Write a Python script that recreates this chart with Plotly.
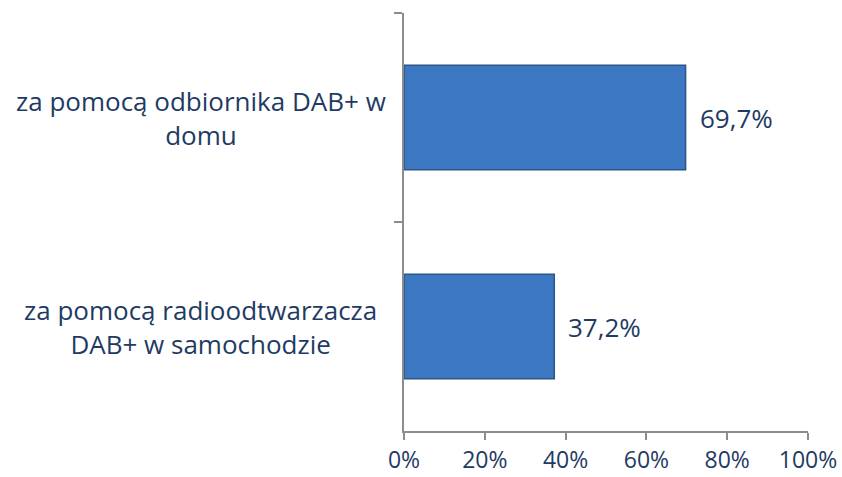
import plotly.graph_objects as go

categories = ["za pomocą odbiornika DAB+ w domu", "za pomocą radioodtwarzacza DAB+ w samochodzie"]
label_lines = ["za pomocą odbiornika DAB+ w<br>domu", "za pomocą radioodtwarzacza<br>DAB+ w samochodzie"]
values = [69.7, 37.2]
x_ticks = [0, 20, 40, 60, 80, 100]
x_tick_labels = ["0%", "20%", "40%", "60%", "80%", "100%"]

FONT = "Open Sans"
TXT = "#1F3B63"
AX = "#8C8C8C"

fig = go.Figure()
fig.add_trace(go.Bar(
    y=categories, x=values, orientation="h", width=0.5,
    marker=dict(color="#3C77C2", line=dict(color="#2C5488", width=1.5)),
    hoverinfo="skip",
))

annotations = []
for cat, lab in zip(categories, label_lines):
    annotations.append(dict(x=-0.5025, xref="paper", y=cat, yref="y", text=lab,
                            showarrow=False, xanchor="center", yanchor="middle", align="center",
                            font=dict(family=FONT, size=26, color=TXT)))
for cat, v in zip(categories, values):
    annotations.append(dict(x=v, xref="x", y=cat, yref="y",
                            text=f"{v:.1f}".replace(".", ",") + "%",
                            showarrow=False, xanchor="left", yanchor="middle", xshift=12,
                            font=dict(family=FONT, size=26, color=TXT)))

fig.update_layout(
    width=842, height=477,
    margin=dict(l=404, r=34, t=13, b=46, autoexpand=False),
    paper_bgcolor="white", plot_bgcolor="white",
    showlegend=False,
    annotations=annotations,
    xaxis=dict(range=[0, 100], tickvals=x_ticks, ticktext=x_tick_labels, automargin=False,
               showgrid=False, zeroline=False, showline=True, linecolor=AX, linewidth=2,
               ticks="outside", ticklen=7, tickcolor=AX, tickwidth=2,
               tickfont=dict(family=FONT, size=23, color=TXT), fixedrange=True),
    yaxis=dict(type="category", categoryarray=categories, range=[1.5, -0.5], automargin=False,
               showticklabels=False, tickson="boundaries",
               showgrid=False, zeroline=False, showline=True, linecolor=AX, linewidth=2,
               ticks="outside", ticklen=8, tickcolor=AX, tickwidth=2, fixedrange=True),
)

fig.write_html("out.html", config={"displayModeBar": False},
               post_script="document.body.style.margin='0';")
